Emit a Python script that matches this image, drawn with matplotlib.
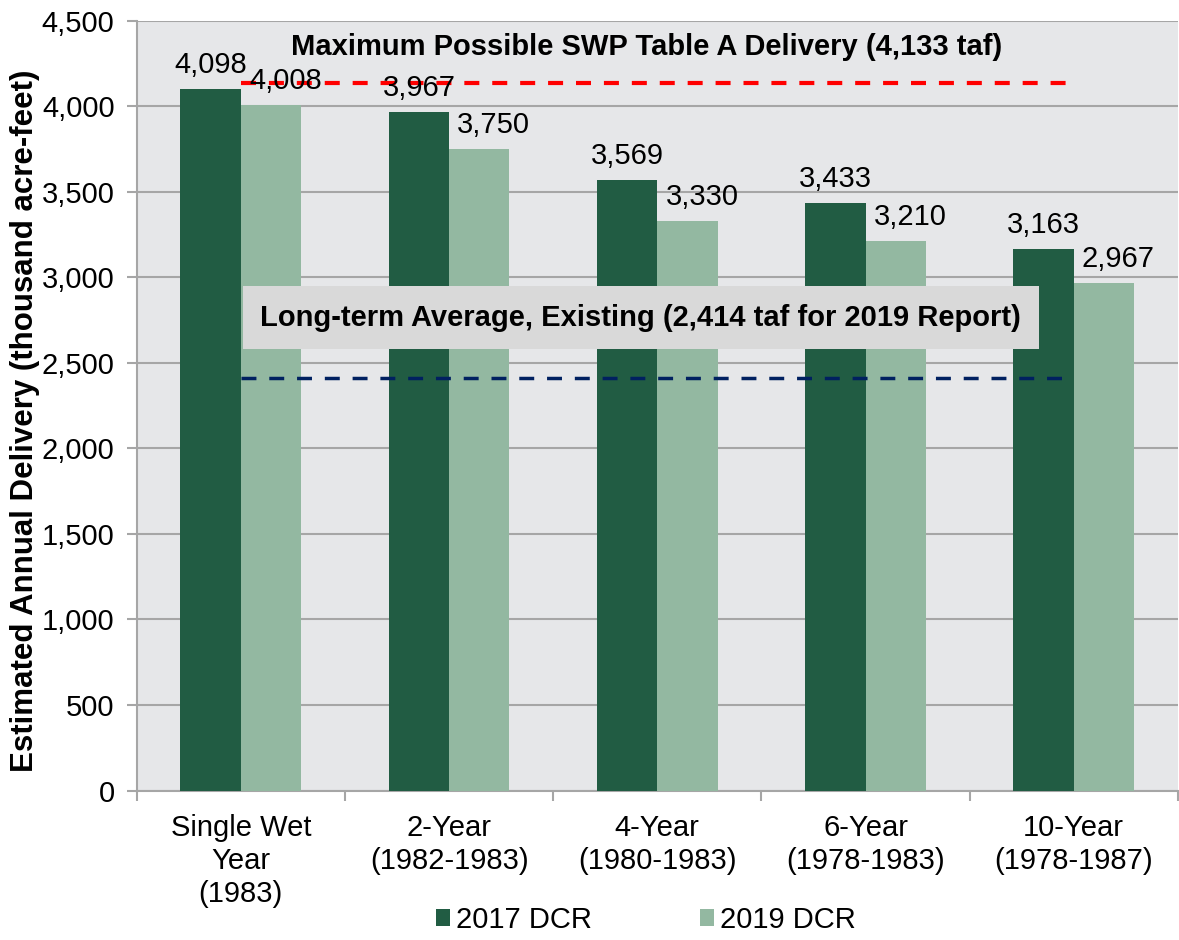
import numpy as np
from matplotlib import pyplot as plt
from matplotlib.ticker import FuncFormatter

plt.rcParams["font.family"] = ["Liberation Sans", "DejaVu Sans"]

categories = ["Single Wet\nYear\n(1983)", "2-Year\n(1982-1983)", "4-Year\n(1980-1983)",
              "6-Year\n(1978-1983)", "10-Year\n(1978-1987)"]
dcr_2017 = [4098, 3967, 3569, 3433, 3163]
dcr_2019 = [4008, 3750, 3330, 3210, 2967]
max_delivery = 4133
long_term_avg = 2414

dark = "#215c43"
light = "#93b8a1"
grid_col = "#a6a6a6"

fig, ax = plt.subplots(figsize=(11.79, 9.4), dpi=100)
fig.subplots_adjust(left=0.116, right=0.999, top=0.978, bottom=0.159)
ax.set_facecolor("#e6e7e9")

x = np.arange(len(categories))
w = 0.29
b1 = ax.bar(x - w / 2, dcr_2017, w, color=dark, label="2017 DCR", zorder=3)
b2 = ax.bar(x + w / 2, dcr_2019, w, color=light, label="2019 DCR", zorder=3)

for rect, v in zip(b1, dcr_2017):
    ax.text(rect.get_x() + rect.get_width() / 2, v + 60, f"{v:,}",
            ha="center", va="bottom", fontsize=21, zorder=6)
for rect, v in zip(b2, dcr_2019):
    ax.text(rect.get_x() + rect.get_width() / 2 + 0.07, v + 60, f"{v:,}",
            ha="center", va="bottom", fontsize=21, zorder=6)

# reference lines
ax.plot([0, 4], [max_delivery, max_delivery], ls=(0, (3.6, 3.1)), color="#ff0000",
        lw=3, zorder=4)
ax.plot([0, 4], [long_term_avg, long_term_avg], ls=(0, (4.3, 3.7)), color="#002060",
        lw=2.5, zorder=4)
ax.text(1.95, 4345, "Maximum Possible SWP Table A Delivery (4,133 taf)",
        ha="center", va="center", fontsize=21, fontweight="bold", zorder=6)
ax.text(1.92, 2765, "Long-term Average, Existing (2,414 taf for 2019 Report)",
        ha="center", va="center", fontsize=21, fontweight="bold", zorder=6,
        bbox=dict(boxstyle="square,pad=0.6", fc="#d9d9d9", ec="none"))

ax.set_xlim(-0.5, 4.5)
ax.set_ylim(0, 4500)
ax.set_yticks(np.arange(0, 4501, 500))
ax.yaxis.set_major_formatter(FuncFormatter(lambda v, p: f"{int(v):,}"))
ax.grid(axis="y", color=grid_col, lw=1.5, zorder=0)
ax.set_xticks(x)
ax.set_xticklabels(categories, fontsize=21, linespacing=1.22)
ax.set_xticks(np.arange(-0.5, 4.6, 1), minor=True)
ax.tick_params(axis="x", which="major", length=0, pad=17)
ax.tick_params(axis="x", which="minor", length=7, color=grid_col, width=1.5)
ax.tick_params(axis="y", labelsize=21, length=7, color=grid_col, width=1.5, pad=9)
for s in ["top", "right"]:
    ax.spines[s].set_visible(False)
for s in ["left", "bottom"]:
    ax.spines[s].set_color(grid_col)
    ax.spines[s].set_linewidth(1.5)

ax.set_ylabel("Estimated Annual Delivery (thousand acre-feet)", fontsize=22.5,
              fontweight="bold", labelpad=1)
ax.yaxis.label.set_y(0.48)

ax.legend(loc="center", bbox_to_anchor=(0.489, -0.168), ncol=2, frameon=False,
          fontsize=21, handlelength=0.5, handleheight=0.5, handletextpad=0.2,
          columnspacing=3.7, borderpad=0)

fig.savefig("out.png")
